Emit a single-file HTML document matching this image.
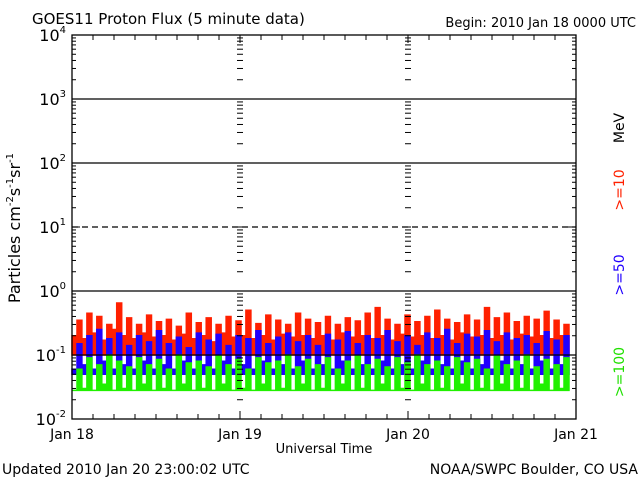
<!DOCTYPE html>
<html><head><meta charset="utf-8"><style>
body{margin:0;background:#fff}
svg{display:block;font-family:"DejaVu Sans","Liberation Sans",sans-serif}
</style></head><body>
<svg id="c" width="640" height="480" viewBox="0 0 640 480">
<rect width="640" height="480" fill="#fff"/>
<text x="32" y="24" font-size="15">GOES11 Proton Flux (5 minute data)</text>
<text x="636" y="27" font-size="13" text-anchor="end">Begin: 2010 Jan 18 0000 UTC</text>
<g id="series"></g>
<g id="grid"></g>
<g id="axes"></g>
<text x="324" y="453" font-size="13" text-anchor="middle">Universal Time</text>
<text x="2" y="474" font-size="14">Updated 2010 Jan 20 23:00:02 UTC</text>
<text x="638" y="474" font-size="14" text-anchor="end">NOAA/SWPC Boulder, CO USA</text>
<text transform="translate(20,228) rotate(-90)" font-size="16" text-anchor="middle">Particles cm<tspan font-size="10" dy="-7">-2</tspan><tspan dy="7">s</tspan><tspan font-size="10" dy="-7">-1</tspan><tspan dy="7">sr</tspan><tspan font-size="10" dy="-7">-1</tspan></text>
<text transform="translate(624,128) rotate(-90)" font-size="14" text-anchor="middle">MeV</text>
<text transform="translate(624,190) rotate(-90)" font-size="14" fill="#ff2000" text-anchor="middle">&gt;=10</text>
<text transform="translate(624,275) rotate(-90)" font-size="14" fill="#2000ff" text-anchor="middle">&gt;=50</text>
<text transform="translate(624,372) rotate(-90)" font-size="14" fill="#20e000" text-anchor="middle">&gt;=100</text>
</svg>
<script>
const dayLabels=["Jan 18","Jan 19","Jan 20","Jan 21"];
const decadeExp=[-2,-1,0,1,2,3,4];
const red=[0.2,0.35,0.18,0.45,0.22,0.4,0.17,0.3,0.25,0.65,0.2,0.38,0.18,0.3,0.22,0.42,0.19,0.33,0.2,0.36,0.17,0.28,0.21,0.45,0.18,0.32,0.2,0.38,0.16,0.3,0.22,0.4,0.19,0.34,0.2,0.5,0.18,0.31,0.2,0.42,0.17,0.35,0.21,0.3,0.19,0.45,0.2,0.36,0.18,0.32,0.2,0.4,0.17,0.3,0.22,0.38,0.19,0.34,0.2,0.45,0.18,0.55,0.2,0.36,0.17,0.3,0.21,0.42,0.19,0.33,0.2,0.4,0.18,0.5,0.2,0.36,0.17,0.32,0.22,0.42,0.19,0.35,0.2,0.55,0.18,0.38,0.2,0.45,0.17,0.33,0.21,0.4,0.19,0.36,0.2,0.48,0.18,0.35,0.2,0.3];
const blue=[0.06,0.15,0.07,0.2,0.06,0.25,0.08,0.18,0.06,0.22,0.07,0.14,0.06,0.2,0.08,0.16,0.06,0.24,0.07,0.15,0.06,0.19,0.08,0.13,0.06,0.22,0.07,0.17,0.06,0.21,0.08,0.14,0.06,0.2,0.07,0.18,0.06,0.24,0.08,0.15,0.06,0.19,0.07,0.22,0.06,0.16,0.08,0.2,0.06,0.14,0.07,0.21,0.06,0.17,0.08,0.23,0.06,0.15,0.07,0.2,0.06,0.18,0.08,0.24,0.06,0.16,0.07,0.2,0.06,0.14,0.08,0.22,0.06,0.18,0.07,0.25,0.06,0.15,0.08,0.21,0.06,0.19,0.07,0.24,0.06,0.16,0.08,0.22,0.06,0.18,0.07,0.2,0.06,0.15,0.08,0.23,0.06,0.17,0.07,0.2];
const green=[0.028,0.06,0.03,0.09,0.028,0.07,0.035,0.1,0.028,0.08,0.03,0.065,0.028,0.09,0.035,0.07,0.028,0.085,0.03,0.06,0.028,0.1,0.035,0.075,0.028,0.08,0.03,0.065,0.028,0.095,0.035,0.07,0.028,0.085,0.03,0.06,0.028,0.09,0.035,0.075,0.028,0.08,0.03,0.1,0.028,0.065,0.035,0.085,0.028,0.07,0.03,0.09,0.028,0.06,0.035,0.08,0.028,0.095,0.03,0.07,0.028,0.085,0.035,0.065,0.028,0.09,0.03,0.075,0.028,0.1,0.035,0.07,0.028,0.08,0.03,0.065,0.028,0.09,0.035,0.075,0.028,0.085,0.03,0.06,0.028,0.095,0.035,0.07,0.028,0.08,0.03,0.1,0.028,0.065,0.035,0.085,0.028,0.07,0.03,0.09];
const seriesFloors=[0.1,0.05,0.028];
const seriesColors=["#ff2000","#2000ff","#20f000"];
const dataEndHours=71;

const NS="http://www.w3.org/2000/svg";
const L=72,R=576,T=35,B=419;
const xs=h=>L+(R-L)*h/72;
const ys=v=>B-(B-T)*(Math.log10(v)+2)/6;
function mk(tag,attrs,parent){const e=document.createElementNS(NS,tag);for(const k in attrs)e.setAttribute(k,attrs[k]);parent.appendChild(e);return e;}
const grid=document.getElementById('grid'),axes=document.getElementById('axes'),ser=document.getElementById('series');

decadeExp.forEach(ex=>{
  if(ex===-2||ex===4)return;
  const y=ys(Math.pow(10,ex));
  const ln=mk('line',{x1:L,x2:R,y1:y,y2:y,stroke:'#000','stroke-width':1.3,'stroke-dasharray':ex===1?'6,4':'none'},grid);
  
  
});
[red,blue,green].forEach((arr,si)=>{
  const n=arr.length,step=dataEndHours/n;
  const yb=ys(seriesFloors[si]);
  let d='M'+xs(0).toFixed(1)+','+yb.toFixed(1);
  arr.forEach((v,i)=>{
    const x0=xs(i*step),x1=xs((i+1)*step);
    const y=Math.min(ys(v),yb);
    d+=' L'+x0.toFixed(1)+','+y.toFixed(1)+' L'+x1.toFixed(1)+','+y.toFixed(1);
  });
  d+=' L'+xs(dataEndHours).toFixed(1)+','+yb.toFixed(1)+' Z';
  const p=mk('path',{d:d,fill:seriesColors[si],stroke:seriesColors[si],'stroke-width':1.5},ser);
  
  
});
const fr=mk('rect',{x:L,y:T,width:R-L,height:B-T,fill:'none',stroke:'#000','stroke-width':1.3},axes);


const tickXs=[[L,1],[R,-1],[xs(24),0],[xs(48),0]];
decadeExp.forEach(ex=>{
  for(let m=1;m<10;m++){
    if(ex===4&&m>1)break;
    const y=ys(m*Math.pow(10,ex));
    const len=m===1?8:4;
    tickXs.forEach(([x,d])=>{
      if(d===0){mk('line',{x1:x-3,x2:x+3,y1:y,y2:y,stroke:'#000'},axes);}
      else mk('line',{x1:x,x2:x+d*len,y1:y,y2:y,stroke:'#000'},axes);
    });
  }
  const y=ys(Math.pow(10,ex));
  const t=mk('text',{x:L-6,y:y+6,'font-size':16,'text-anchor':'end'},axes);
  
  
  t.textContent='10';
  const s=mk('tspan',{dy:-8,'font-size':10},t);s.textContent=String(ex);
});
for(let h=0;h<=72;h+=3){
  const x=xs(h),len=h%24===0?8:5;
  mk('line',{x1:x,x2:x,y1:B,y2:B-len,stroke:'#000'},axes);
  mk('line',{x1:x,x2:x,y1:T,y2:T+len,stroke:'#000'},axes);
}
dayLabels.forEach((d,i)=>{
  const t=mk('text',{x:xs(i*24),y:439,'font-size':14,'text-anchor':'middle'},axes);
  
  
  t.textContent=d;
});
</script>
</body></html>
